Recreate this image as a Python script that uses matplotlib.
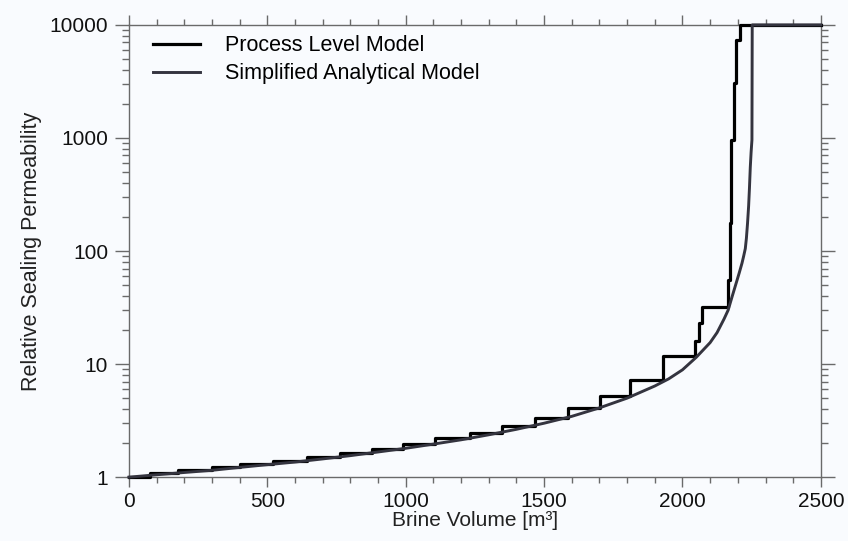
import numpy as np
import matplotlib
matplotlib.use("Agg")
import matplotlib.pyplot as plt
from matplotlib.ticker import FixedLocator, NullFormatter

plt.rcParams['font.family'] = ['Liberation Sans', 'DejaVu Sans']

# process level model: stair steps (volume where each step starts, level held after it)
proc_vol = [0, 76, 177, 300, 401, 521, 643, 763, 878, 991, 1106, 1233, 1348, 1468,
            1587, 1703, 1811, 1930, 2046, 2058, 2071, 2165, 2171, 2177, 2185, 2193,
            2209, 2500]
proc_perm = [1.00, 1.09, 1.15, 1.22, 1.30, 1.39, 1.50, 1.62, 1.78, 1.97, 2.20, 2.45, 2.85, 3.31,
             4.06, 5.2, 7.2, 11.7, 16, 23, 32, 55, 176, 960, 3080, 7400,
             10000, 10000]

# simplified analytical model
simp_vol = [0, 100, 200, 300, 400, 500, 600, 700, 800, 900, 1000, 1100, 1200, 1300,
            1400, 1500, 1600, 1700, 1800, 1900, 1950, 2000, 2050, 2100, 2125, 2150, 2165,
            2180, 2197, 2205, 2215, 2221, 2227, 2231, 2235, 2239, 2242, 2245, 2248, 2251,
            2252, 2500]
simp_perm = [1.00, 1.05, 1.10, 1.15, 1.22, 1.29, 1.36, 1.45, 1.55, 1.67, 1.80, 1.96, 2.14, 2.37,
             2.65, 3.00, 3.45, 4.10, 5.0, 6.4, 7.4, 8.9, 11.5, 15.5, 19, 25, 30,
             40, 55, 64, 78, 90, 105, 130, 175, 250, 360, 550, 750, 960,
             10000, 10000]

y_ticks = [1, 10, 100, 1000, 10000]
y_labels = ['1', '10', '100', '1000', '10000']
x_ticks = [0, 500, 1000, 1500, 2000, 2500]

bg = '#f9fbfe'
fig = plt.figure(figsize=(8.48, 5.41), dpi=100, facecolor=bg)
ax = fig.add_axes([0.152, 0.118, 0.816, 0.836], facecolor=bg)

ax.plot(proc_vol, proc_perm, drawstyle='steps-post', color='black', lw=2.3,
        label='Process Level Model', clip_on=False, zorder=3)
ax.plot(simp_vol, simp_perm, color='#34343f', lw=2.1,
        label='Simplified Analytical Model', clip_on=False, zorder=4)

ax.set_yscale('log')
ax.set_xlim(0, 2500)
ax.set_ylim(1, 10000)

ax.set_yticks(y_ticks)
ax.set_yticklabels(y_labels)
ax.yaxis.set_minor_locator(FixedLocator([m * 10**d for d in range(4) for m in range(2, 10)]))
ax.yaxis.set_minor_formatter(NullFormatter())
ax.set_xticks(x_ticks)
ax.xaxis.set_minor_locator(FixedLocator(np.arange(0, 2501, 100)))

for s in ax.spines.values():
    s.set_color('#6a6a6a')
    s.set_linewidth(1.0)

ax.tick_params(axis='both', which='both', direction='out', color='#6a6a6a',
               top=True, right=True, labelsize=15, labelcolor='#111111')
ax.tick_params(axis='y', which='major', length=10, width=1, pad=5)
ax.tick_params(axis='y', which='minor', length=5, width=1)
ax.tick_params(axis='x', which='major', length=7, width=1, pad=4)
ax.tick_params(axis='x', which='minor', length=4, width=1)

ax.set_xlabel('Brine Volume [m³]', fontsize=15, color='#222222', labelpad=0)
ax.set_ylabel('Relative Sealing Permeability', fontsize=15.5, color='#222222', labelpad=5)

ax.legend(loc='upper left', bbox_to_anchor=(0.035, 0.977), frameon=False, fontsize=15.5,
          handlelength=2.2, handletextpad=1.15, borderaxespad=0, borderpad=0,
          labelspacing=0.33)

fig.savefig('out.png', dpi=100, facecolor=bg)
